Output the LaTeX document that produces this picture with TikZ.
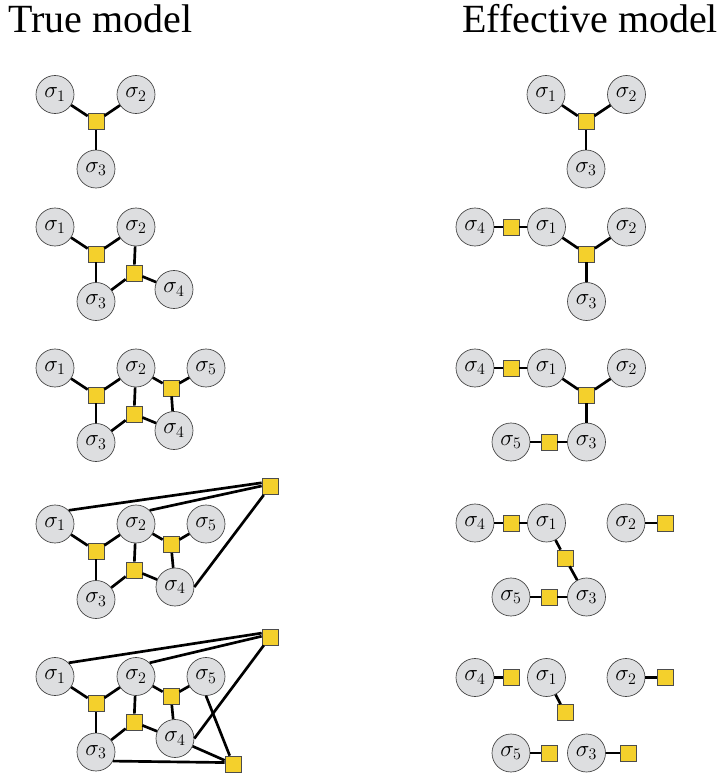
\documentclass[tikz,border=0pt]{standalone}
\usepackage{fontspec}
\newfontfamily\titlefont{Liberation Serif}
\definecolor{spingray}{HTML}{DDDEE0}
\definecolor{facyellow}{HTML}{F4D02C}
\begin{document}
\begin{tikzpicture}[x=0.75pt, y=-0.75pt]
        \tikzstyle{spin} = [circle, draw=black!75, line width=0.5pt, fill=spingray, minimum size=28.5pt, inner sep=0pt, font=\fontsize{17.28}{20}\selectfont]
        \tikzstyle{fac} = [rectangle, draw=black!70, line width=0.5pt, fill=facyellow, minimum size=12pt, inner sep=0pt]
        \tikzstyle{blk} = [draw, black, line width=2pt]
        \tikzstyle{title} = [anchor=base west, inner sep=0pt, font=\titlefont\fontsize{30}{36}\selectfont]

        \useasboundingbox (0, 0) rectangle (722, 773);

        \node[title] (truetitle) at (8, 33) {True model};
        \node[title] (efftitle) at (462, 33) {Effective model};

        % true model
        \node[spin] (t1s1) at (55, 94.5) {$\sigma_1$};
        \node[spin] (t1s2) at (136, 94.5) {$\sigma_2$};
        \node[spin] (t1s3) at (96, 169) {$\sigma_3$};
        \node[fac] (t1f) at (96, 121.5) {};

        \node[spin] (t2s1) at (55, 227) {$\sigma_1$};
        \node[spin] (t2s2) at (136, 227) {$\sigma_2$};
        \node[spin] (t2s3) at (96, 301.5) {$\sigma_3$};
        \node[spin] (t2s4) at (174, 289.5) {$\sigma_4$};
        \node[fac] (t2f1) at (96, 254) {};
        \node[fac] (t2f2) at (134, 273) {};

        \node[spin] (t3s1) at (55, 368) {$\sigma_1$};
        \node[spin] (t3s2) at (136, 368) {$\sigma_2$};
        \node[spin] (t3s5) at (206, 368) {$\sigma_5$};
        \node[spin] (t3s3) at (96, 442.5) {$\sigma_3$};
        \node[spin] (t3s4) at (174, 430.5) {$\sigma_4$};
        \node[fac] (t3f1) at (96, 395) {};
        \node[fac] (t3f2) at (134, 414) {};
        \node[fac] (t3f3) at (171, 388) {};

        \node[spin] (t4s1) at (55, 524) {$\sigma_1$};
        \node[spin] (t4s2) at (136, 524) {$\sigma_2$};
        \node[spin] (t4s5) at (206, 524) {$\sigma_5$};
        \node[spin] (t4s3) at (96, 599.5) {$\sigma_3$};
        \node[spin] (t4s4) at (175, 587) {$\sigma_4$};
        \node[fac] (t4f1) at (96, 551) {};
        \node[fac] (t4f2) at (134, 570) {};
        \node[fac] (t4f3) at (171, 544.5) {};
        \node[fac] (t4f4) at (270, 486.7) {};

        \node[spin] (t5s1) at (55, 676.5) {$\sigma_1$};
        \node[spin] (t5s2) at (136, 676.5) {$\sigma_2$};
        \node[spin] (t5s5) at (206, 676.5) {$\sigma_5$};
        \node[spin] (t5s3) at (96, 752) {$\sigma_3$};
        \node[spin] (t5s4) at (175, 738.5) {$\sigma_4$};
        \node[fac] (t5f1) at (96, 703.5) {};
        \node[fac] (t5f2) at (134, 722) {};
        \node[fac] (t5f3) at (171, 696.5) {};
        \node[fac] (t5f4) at (270, 637) {};
        \node[fac] (t5f5) at (233, 764) {};

        \path[blk] (t1s1) to (t1f);
        \path[blk] (t1s2) to (t1f);
        \path[blk] (t1s3) to (t1f);

        \path[blk] (t2s1) to (t2f1);
        \path[blk] (t2s2) to (t2f1);
        \path[blk] (t2s3) to (t2f1);
        \path[blk] (t2s2) to (t2f2);
        \path[blk] (t2s3) to (t2f2);
        \path[blk] (t2s4) to (t2f2);

        \path[blk] (t3s1) to (t3f1);
        \path[blk] (t3s2) to (t3f1);
        \path[blk] (t3s3) to (t3f1);
        \path[blk] (t3s2) to (t3f2);
        \path[blk] (t3s3) to (t3f2);
        \path[blk] (t3s4) to (t3f2);
        \path[blk] (t3s2) to (t3f3);
        \path[blk] (t3s5) to (t3f3);
        \path[blk] (t3s4) to (t3f3);

        \path[blk] (t4s1) to (t4f1);
        \path[blk] (t4s2) to (t4f1);
        \path[blk] (t4s3) to (t4f1);
        \path[blk] (t4s2) to (t4f2);
        \path[blk] (t4s3) to (t4f2);
        \path[blk] (t4s4) to (t4f2);
        \path[blk] (t4s2) to (t4f3);
        \path[blk] (t4s5) to (t4f3);
        \path[blk] (t4s4) to (t4f3);
        \path[blk] (t4s1.north east) to (t4f4.155);
        \path[blk] (t4s2.north east) to (t4f4.175);
        \path[blk] (t4s4.east) to (t4f4);

        \path[blk] (t5s1) to (t5f1);
        \path[blk] (t5s2) to (t5f1);
        \path[blk] (t5s3) to (t5f1);
        \path[blk] (t5s2) to (t5f2);
        \path[blk] (t5s3) to (t5f2);
        \path[blk] (t5s4) to (t5f2);
        \path[blk] (t5s2) to (t5f3);
        \path[blk] (t5s5) to (t5f3);
        \path[blk] (t5s4) to (t5f3);
        \path[blk] (t5s1.north east) to (t5f4.155);
        \path[blk] (t5s2.north east) to (t5f4.175);
        \path[blk] (t5s4.east) to (t5f4);
        \path[blk] (t5s5.south) to (t5f5);
        \path[blk] (t5s4) to (t5f5);
        \path[blk] (t5s3.-28) to (t5f5.170);

        % effective model
        \node[spin] (e1s1) at (546, 94.5) {$\sigma_1$};
        \node[spin] (e1s2) at (626.5, 94.5) {$\sigma_2$};
        \node[spin] (e1s3) at (586, 169) {$\sigma_3$};
        \node[fac] (e1f) at (586, 121.5) {};

        \node[spin] (e2s4) at (475, 227) {$\sigma_4$};
        \node[spin] (e2s1) at (546.5, 227) {$\sigma_1$};
        \node[spin] (e2s2) at (626.5, 227) {$\sigma_2$};
        \node[spin] (e2s3) at (586.5, 301.5) {$\sigma_3$};
        \node[fac] (e2f4) at (511, 227) {};
        \node[fac] (e2f) at (586.5, 254) {};

        \node[spin] (e3s4) at (475, 368) {$\sigma_4$};
        \node[spin] (e3s1) at (546.5, 368) {$\sigma_1$};
        \node[spin] (e3s2) at (626.5, 368) {$\sigma_2$};
        \node[spin] (e3s5) at (511, 442) {$\sigma_5$};
        \node[spin] (e3s3) at (586.5, 442) {$\sigma_3$};
        \node[fac] (e3f4) at (511, 368) {};
        \node[fac] (e3f) at (586.5, 395) {};
        \node[fac] (e3f5) at (549, 442) {};

        \node[spin] (e4s4) at (475, 523) {$\sigma_4$};
        \node[spin] (e4s1) at (546.5, 523) {$\sigma_1$};
        \node[spin] (e4s2) at (626, 523) {$\sigma_2$};
        \node[spin] (e4s5) at (511, 597) {$\sigma_5$};
        \node[spin] (e4s3) at (586.5, 597) {$\sigma_3$};
        \node[fac] (e4f4) at (511, 523) {};
        \node[fac] (e4f2) at (665, 523) {};
        \node[fac] (e4f13) at (565, 558) {};
        \node[fac] (e4f5) at (549, 597) {};

        \node[spin] (e5s4) at (475, 677.5) {$\sigma_4$};
        \node[spin] (e5s1) at (546.5, 677.5) {$\sigma_1$};
        \node[spin] (e5s2) at (626, 677.5) {$\sigma_2$};
        \node[spin] (e5s5) at (511, 753) {$\sigma_5$};
        \node[spin] (e5s3) at (586.5, 753) {$\sigma_3$};
        \node[fac] (e5f4) at (511, 677.5) {};
        \node[fac] (e5f2) at (665, 677.5) {};
        \node[fac] (e5f1) at (565, 712.5) {};
        \node[fac] (e5f5) at (549, 753) {};
        \node[fac] (e5f3) at (628, 753) {};

        \path[blk] (e1s1) to (e1f);
        \path[blk] (e1s2) to (e1f);
        \path[blk] (e1s3) to (e1f);

        \path[blk] (e2s4) to (e2f4);
        \path[blk] (e2f4) to (e2s1);
        \path[blk] (e2s1) to (e2f);
        \path[blk] (e2s2) to (e2f);
        \path[blk] (e2s3) to (e2f);

        \path[blk] (e3s4) to (e3f4);
        \path[blk] (e3f4) to (e3s1);
        \path[blk] (e3s1) to (e3f);
        \path[blk] (e3s2) to (e3f);
        \path[blk] (e3s3) to (e3f);
        \path[blk] (e3s5) to (e3f5);
        \path[blk] (e3f5) to (e3s3);

        \path[blk] (e4s4) to (e4f4);
        \path[blk] (e4f4) to (e4s1);
        \path[blk] (e4s1) to (e4f13);
        \path[blk] (e4f13) to (e4s3);
        \path[blk] (e4s5) to (e4f5);
        \path[blk] (e4f5) to (e4s3);
        \path[blk] (e4s2) to (e4f2);

        \path[blk] (e5s4) to (e5f4);
        \path[blk] (e5s1) to (e5f1);
        \path[blk] (e5s2) to (e5f2);
        \path[blk] (e5s5) to (e5f5);
        \path[blk] (e5s3) to (e5f3);
    \end{tikzpicture}
\end{document}
